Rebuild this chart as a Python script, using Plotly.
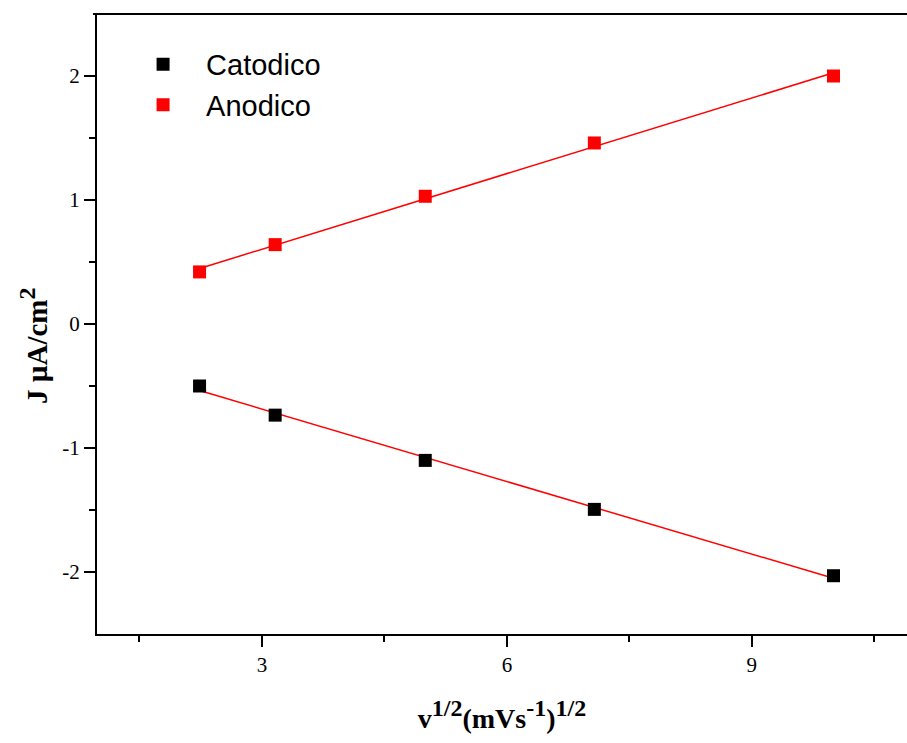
import numpy as np
import plotly.graph_objects as go

x_vals = [2.236, 3.162, 5.0, 7.071, 10.0]
catodico = [-0.50, -0.735, -1.10, -1.495, -2.03]
anodico = [0.42, 0.64, 1.03, 1.46, 2.00]

x_ticks = [3, 6, 9]
x_ticktext = ["3", "6", "9"]
y_ticks = [-2, -1, 0, 1, 2]
y_ticktext = ["-2", "-1", "0", "1", "2"]

xa = np.array(x_vals)
fig = go.Figure()

for ys in (anodico, catodico):
    m, b = np.polyfit(xa, np.array(ys), 1)
    fig.add_trace(go.Scatter(x=[xa.min(), xa.max()], y=[m * xa.min() + b, m * xa.max() + b],
                             mode="lines", line=dict(color="red", width=1.5),
                             showlegend=False, hoverinfo="skip"))

fig.add_trace(go.Scatter(x=x_vals, y=catodico, mode="markers", name="Catodico",
                         marker=dict(symbol="square", size=13, color="black")))
fig.add_trace(go.Scatter(x=x_vals, y=anodico, mode="markers", name="Anodico",
                         marker=dict(symbol="square", size=13, color="red")))

serif = "Liberation Serif"
big = '<span style="font-size:24px">'
fig.update_layout(
    width=907, height=743,
    margin=dict(l=97, r=0, t=14, b=109),
    plot_bgcolor="white", paper_bgcolor="white",
    showlegend=True,
    legend=dict(x=0.0285, y=0.96, xanchor="left", yanchor="top",
                font=dict(family="Liberation Sans", size=29, color="black"),
                bgcolor="rgba(0,0,0,0)", tracegroupgap=0, itemwidth=76),
    xaxis=dict(range=[0.98, 10.9], tickvals=x_ticks, ticktext=x_ticktext,
               ticks="outside", ticklen=11, tickwidth=2,
               tickcolor="black", showline=True, linewidth=2, linecolor="black",
               showgrid=False, zeroline=False,
               tickfont=dict(family=serif, size=21, color="black"),
               minor=dict(tickvals=[1.5, 4.5, 7.5, 10.5], ticks="outside", ticklen=6,
                          tickwidth=2, tickcolor="black", showgrid=False),
               title=dict(text="<b>v<sup>" + big + "1/2</span></sup>(mVs<sup>" + big
                          + "-1</span></sup>)<sup>" + big + "1/2</span></sup></b>",
                          font=dict(family=serif, size=28, color="black"), standoff=32)),
    yaxis=dict(range=[-2.5, 2.5], tickvals=y_ticks, ticktext=y_ticktext,
               ticks="outside", ticklen=11, tickwidth=2,
               tickcolor="black", showline=True, linewidth=2, linecolor="black",
               showgrid=False, zeroline=False,
               tickfont=dict(family=serif, size=21, color="black"),
               minor=dict(tickvals=[-1.5, -0.5, 0.5, 1.5], ticks="outside", ticklen=6,
                          tickwidth=2, tickcolor="black", showgrid=False),
               title=dict(text='<b>J µA/cm<sup><span style="font-size:24px">2</span></sup>'
                               + '&nbsp;' * 6 + '</b>',
                          font=dict(family=serif, size=29, color="black"), standoff=6)),
)
fig.add_shape(type="line", xref="paper", yref="paper", x0=-0.005, x1=1, y0=1, y1=1,
              line=dict(color="black", width=2))

fig.write_html("out.html")
